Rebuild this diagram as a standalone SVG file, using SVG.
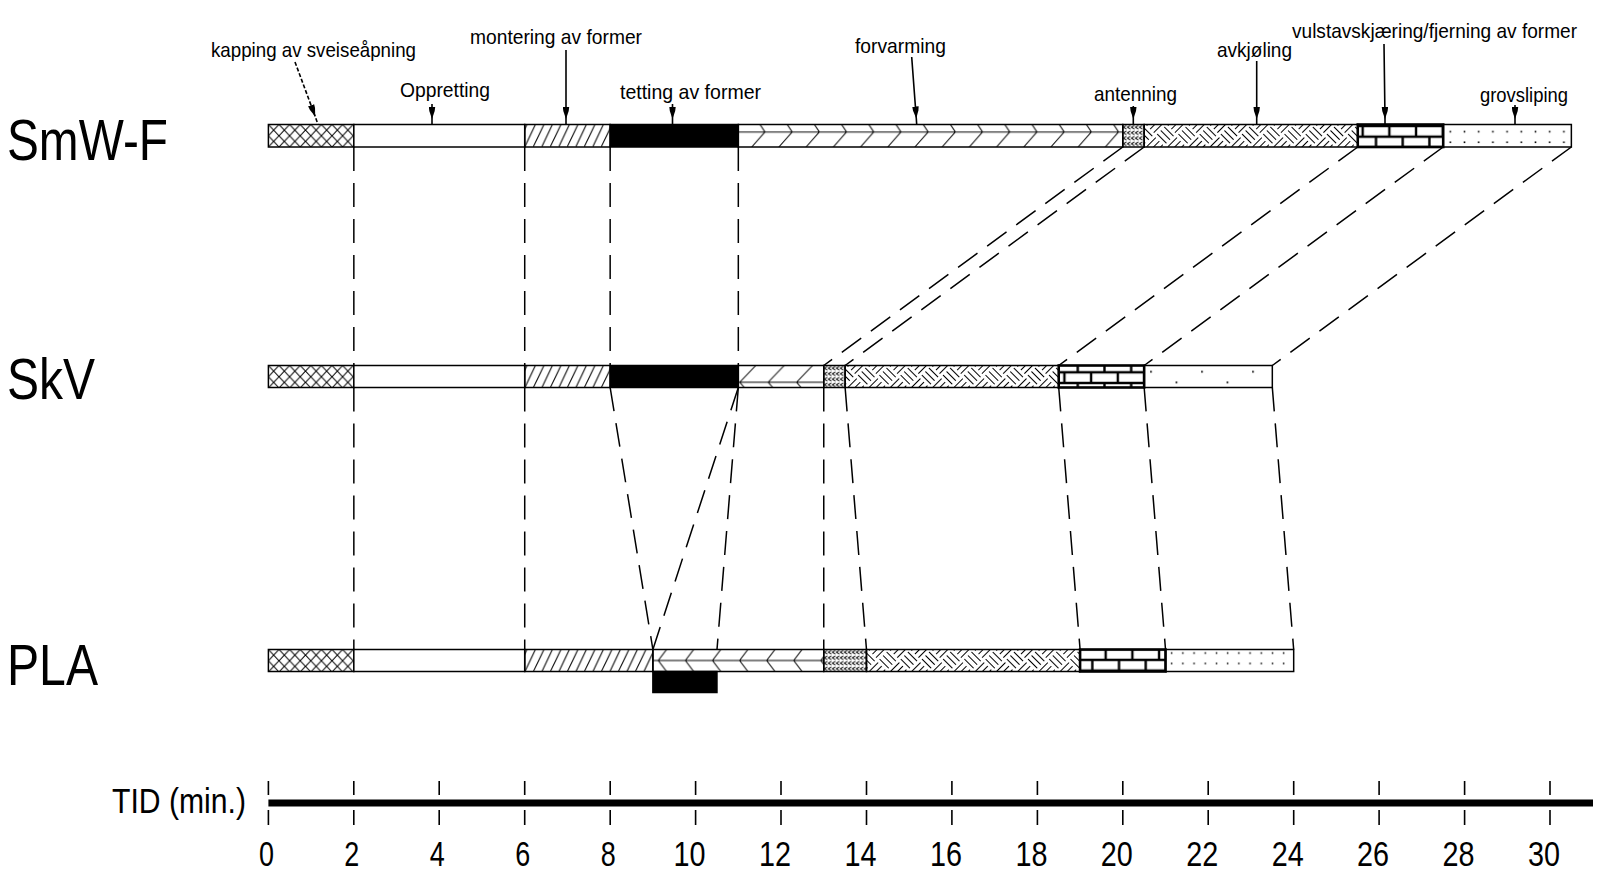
<svg xmlns="http://www.w3.org/2000/svg" width="1600" height="895" viewBox="0 0 1600 895">
<style>
.seg{stroke:#000;stroke-width:1.5}
.brk{stroke:#000;stroke-width:2.6}
.conn{fill:none;stroke:#000;stroke-width:1.5;stroke-dasharray:24 12}
.ptr{fill:none;stroke:#000;stroke-width:1.6;marker-mid:url(#ah)}
.pl{fill:none;stroke:#000;stroke-width:1}
.t{font-family:'Liberation Sans Narrow','Liberation Sans',Arial,sans-serif;fill:#000}
.lbl{font-size:21px}
.row{font-size:57px}
.num{font-size:35px;text-anchor:middle}
.tick{stroke:#000;stroke-width:1.6}
</style>
<defs>
<marker id="ah" markerUnits="userSpaceOnUse" markerWidth="13" markerHeight="7" refX="12" refY="3.5" orient="auto"><path d="M0,0.3 L4,0.8 L12,3.5 L4,6.2 L0,6.7 Z" fill="#000"/></marker>
<pattern id="pCross" patternUnits="userSpaceOnUse" width="10.6" height="11.25"><path class="pl" d="M0,0 L10.6,11.25 M10.6,0 L0,11.25"/></pattern>
<pattern id="pHatch" patternUnits="userSpaceOnUse" width="8.5" height="22.5"><path class="pl" stroke-width="1.2" d="M0,22.5 L10.7,0 M-8.5,22.5 L2.2,0"/></pattern>
<pattern id="pChevR" patternUnits="userSpaceOnUse" width="27.2" height="22.5"><path class="pl" stroke-width="1.3" d="M0,7.5 H27.2 M21.7,0 L26.7,7.5 L13.4,22.5"/></pattern>
<pattern id="pChevL1" patternUnits="userSpaceOnUse" width="28.4" height="22"><path class="pl" stroke-width="1.3" d="M0,16.7 H28.4 M17.5,0 L1.5,16.7 L6,22"/></pattern>
<pattern id="pChevL2" patternUnits="userSpaceOnUse" width="27.1" height="22"><path class="pl" stroke-width="1.3" d="M0,11 H27.1 M13.7,0 L5.4,11 L13.7,22"/></pattern>
<pattern id="pAnt" patternUnits="userSpaceOnUse" width="4" height="5.5"><path class="pl" stroke-width="0.9" d="M3.6,0.8 L0.6,2.75 L3.6,4.7"/></pattern>
<pattern id="pHerr" patternUnits="userSpaceOnUse" width="30" height="30" patternTransform="rotate(45)"><path class="pl" stroke-width="1.1" d="M1,2.5H14 M1,7.5H14 M1,12.5H14 M16,17.5H29 M16,22.5H29 M16,27.5H29 M17.5,1V14 M22.5,1V14 M27.5,1V14 M2.5,16V29 M7.5,16V29 M12.5,16V29"/></pattern>
<pattern id="pBrick" patternUnits="userSpaceOnUse" width="26.7" height="21.4"><path fill="none" stroke="#000" stroke-width="2.4" d="M0,0 H26.7 M0,10.7 H26.7 M0,21.4 H26.7 M0,0 V10.7 M26.7,0 V10.7 M13.35,10.7 V21.4"/></pattern>
<pattern id="pDot1" patternUnits="userSpaceOnUse" width="14.2" height="22.5"><rect x="6.3" y="6.4" width="1.6" height="1.6"/><rect x="6.3" y="17" width="1.6" height="1.6"/></pattern>
<pattern id="pDot2" patternUnits="userSpaceOnUse" width="51" height="22"><rect x="6" y="5.4" width="1.7" height="1.7"/><rect x="31.5" y="16" width="1.7" height="1.7"/></pattern>
<pattern id="pDot3" patternUnits="userSpaceOnUse" width="11.2" height="22"><rect x="5.4" y="2.8" width="1.5" height="1.5"/><rect x="5.4" y="13.2" width="1.5" height="1.5"/></pattern>
</defs>
<rect width="1600" height="895" fill="#fff"/>

<g id="row-labels">
<text class="t row" x="7" y="160" textLength="161" lengthAdjust="spacingAndGlyphs">SmW-F</text>
<text class="t row" x="7" y="399" textLength="88" lengthAdjust="spacingAndGlyphs">SkV</text>
<text class="t row" x="7" y="685" textLength="91" lengthAdjust="spacingAndGlyphs">PLA</text>
</g>

<g id="bar-smwf">
<g id="smwf-kapping" transform="translate(268.4,124.5)"><rect class="seg" width="85.44" height="22.5" fill="url(#pCross)"/></g>
<g id="smwf-oppretting" transform="translate(353.84,124.5)"><rect class="seg" width="170.88" height="22.5" fill="#fff"/></g>
<g id="smwf-montering" transform="translate(524.72,124.5)"><rect class="seg" width="85.44" height="22.5" fill="url(#pHatch)"/></g>
<g id="smwf-tetting" transform="translate(610.16,124.5)"><rect class="seg" width="128.16" height="22.5" fill="#000"/></g>
<g id="smwf-forvarming" transform="translate(738.32,124.5)"><rect class="seg" width="384.48" height="22.5" fill="url(#pChevR)"/></g>
<g id="smwf-antenning" transform="translate(1122.8,124.5)"><rect class="seg" width="21.36" height="22.5" fill="url(#pAnt)"/></g>
<g id="smwf-avkjoling" transform="translate(1144.16,124.5)"><rect class="seg" width="213.6" height="22.5" fill="url(#pHerr)"/></g>
<g id="smwf-vulstav" transform="translate(1357.76,124.5)"><rect class="brk" x="-4.9" y="-1.5" transform="translate(4.9,1.5)" width="85.44" height="22.5" fill="url(#pBrick)"/></g>
<g id="smwf-grovsliping" transform="translate(1443.2,124.5)"><rect class="seg" width="128.16" height="22.5" fill="url(#pDot1)"/></g>
</g>

<g id="bar-skv">
<g id="skv-kapping" transform="translate(268.4,365.5)"><rect class="seg" width="85.44" height="22" fill="url(#pCross)"/></g>
<g id="skv-oppretting" transform="translate(353.84,365.5)"><rect class="seg" width="170.88" height="22" fill="#fff"/></g>
<g id="skv-montering" transform="translate(524.72,365.5)"><rect class="seg" width="85.44" height="22" fill="url(#pHatch)"/></g>
<g id="skv-tetting" transform="translate(610.16,365.5)"><rect class="seg" width="128.16" height="22" fill="#000"/></g>
<g id="skv-forvarming" transform="translate(738.32,365.5)"><rect class="seg" width="85.44" height="22" fill="url(#pChevL1)"/></g>
<g id="skv-antenning" transform="translate(823.76,365.5)"><rect class="seg" width="21.36" height="22" fill="url(#pAnt)"/></g>
<g id="skv-avkjoling" transform="translate(845.12,365.5)"><rect class="seg" width="213.6" height="22" fill="url(#pHerr)"/></g>
<g id="skv-vulstav" transform="translate(1058.72,365.5)"><rect class="brk" x="-5.7" y="-6.8" transform="translate(5.7,6.8)" width="85.44" height="22" fill="url(#pBrick)"/></g>
<g id="skv-grovsliping" transform="translate(1144.16,365.5)"><rect class="seg" width="128.16" height="22" fill="url(#pDot2)"/></g>
</g>

<g id="bar-pla">
<g id="pla-kapping" transform="translate(268.4,649.5)"><rect class="seg" width="85.44" height="22" fill="url(#pCross)"/></g>
<g id="pla-oppretting" transform="translate(353.84,649.5)"><rect class="seg" width="170.88" height="22" fill="#fff"/></g>
<g id="pla-montering" transform="translate(524.72,649.5)"><rect class="seg" width="128.16" height="22" fill="url(#pHatch)"/></g>
<g id="pla-forvarming" transform="translate(652.88,649.5)"><rect class="seg" width="170.88" height="22" fill="url(#pChevL2)"/></g>
<g id="pla-tetting" transform="translate(652.88,671.5)"><rect class="seg" width="64.08" height="21" fill="#000"/></g>
<g id="pla-antenning" transform="translate(823.76,649.5)"><rect class="seg" width="42.72" height="22" fill="url(#pAnt)"/></g>
<g id="pla-avkjoling" transform="translate(866.48,649.5)"><rect class="seg" width="213.6" height="22" fill="url(#pHerr)"/></g>
<g id="pla-vulstav" transform="translate(1080.08,649.5)"><rect class="brk" x="-25.6" y="0.3" transform="translate(25.6,-0.3)" width="85.44" height="22" fill="url(#pBrick)"/></g>
<g id="pla-grovsliping" transform="translate(1165.52,649.5)"><rect class="seg" width="128.16" height="22" fill="url(#pDot3)"/></g>
</g>

<g id="connectors">
<path class="conn" d="M353.84,147 V365.5 M353.84,387.5 V649.5"/>
<path class="conn" d="M524.72,147 V365.5 M524.72,387.5 V649.5"/>
<path class="conn" d="M610.16,147 V365.5"/>
<path class="conn" d="M738.32,147 V365.5"/>
<path class="conn" d="M610.16,387.5 L652.88,649.5"/>
<path class="conn" d="M738.32,387.5 L652.88,649.5"/>
<path class="conn" d="M738.32,387.5 L717,649.5"/>
<path class="conn" d="M823.76,387.5 V649.5"/>
<path class="conn" d="M845.12,387.5 L866.48,649.5"/>
<path class="conn" d="M1058.72,387.5 L1080.08,649.5"/>
<path class="conn" d="M1144.16,387.5 L1165.52,649.5"/>
<path class="conn" d="M1272.32,387.5 L1293.68,649.5"/>
<path class="conn" d="M1122.8,147 L823.76,365.5"/>
<path class="conn" d="M1144.16,147 L845.12,365.5"/>
<path class="conn" d="M1357.76,147 L1058.72,365.5"/>
<path class="conn" d="M1443.2,147 L1144.16,365.5"/>
<path class="conn" d="M1571.36,147 L1272.32,365.5"/>
</g>

<g id="step-labels">
<text class="t lbl" x="211" y="57" textLength="205" lengthAdjust="spacingAndGlyphs">kapping av sveiseåpning</text>
<text class="t lbl" x="400" y="97.3" textLength="90" lengthAdjust="spacingAndGlyphs">Oppretting</text>
<text class="t lbl" x="470" y="44" textLength="172" lengthAdjust="spacingAndGlyphs">montering av former</text>
<text class="t lbl" x="620" y="99.3" textLength="141" lengthAdjust="spacingAndGlyphs">tetting av former</text>
<text class="t lbl" x="855" y="53.3" textLength="91" lengthAdjust="spacingAndGlyphs">forvarming</text>
<text class="t lbl" x="1094" y="100.7" textLength="83" lengthAdjust="spacingAndGlyphs">antenning</text>
<text class="t lbl" x="1217" y="56.7" textLength="75" lengthAdjust="spacingAndGlyphs">avkjøling</text>
<text class="t lbl" x="1292" y="38.3" textLength="285" lengthAdjust="spacingAndGlyphs">vulstavskjæring/fjerning av former</text>
<text class="t lbl" x="1480" y="101.7" textLength="88" lengthAdjust="spacingAndGlyphs">grovsliping</text>
</g>

<g id="pointers">
<path class="ptr" stroke-dasharray="4 2" d="M295,62 L315.2,116.5 L318,124.5"/>
<path class="ptr" d="M432,104 L432,119 L432,124.5"/>
<path class="ptr" d="M566,50 L566,119 L566,124.5"/>
<path class="ptr" d="M672.5,104 L672.5,119 L672.5,124.5"/>
<path class="ptr" d="M911.7,57 L916.3,118.5 L916.7,124.5"/>
<path class="ptr" d="M1133.3,106 L1133.3,119 L1133.3,124.5"/>
<path class="ptr" d="M1256.7,61 L1256.7,119 L1256.7,124.5"/>
<path class="ptr" d="M1384,44 L1385,119 L1385,124.5"/>
<path class="ptr" d="M1515,105 L1515,119 L1515,124.5"/>
</g>

<g id="time-axis">
<text class="t" x="112" y="813" font-size="35" textLength="134" lengthAdjust="spacingAndGlyphs">TID (min.)</text>
<line x1="268.4" y1="803" x2="1593" y2="803" stroke="#000" stroke-width="7"/>
<path class="tick" d="M268.4,781V795M268.4,810V825 M353.8,781V795M353.8,810V825 M439.2,781V795M439.2,810V825 M524.7,781V795M524.7,810V825 M610.2,781V795M610.2,810V825 M695.6,781V795M695.6,810V825 M781,781V795M781,810V825 M866.5,781V795M866.5,810V825 M951.9,781V795M951.9,810V825 M1037.4,781V795M1037.4,810V825 M1122.8,781V795M1122.8,810V825 M1208.2,781V795M1208.2,810V825 M1293.7,781V795M1293.7,810V825 M1379.1,781V795M1379.1,810V825 M1464.6,781V795M1464.6,810V825 M1550,781V795M1550,810V825"/>
<text class="t num" x="266.4" y="866" textLength="15" lengthAdjust="spacingAndGlyphs">0</text>
<text class="t num" x="351.8" y="866" textLength="15" lengthAdjust="spacingAndGlyphs">2</text>
<text class="t num" x="437.2" y="866" textLength="15" lengthAdjust="spacingAndGlyphs">4</text>
<text class="t num" x="522.7" y="866" textLength="15" lengthAdjust="spacingAndGlyphs">6</text>
<text class="t num" x="608.2" y="866" textLength="15" lengthAdjust="spacingAndGlyphs">8</text>
<text class="t num" x="689.6" y="866" textLength="32" lengthAdjust="spacingAndGlyphs">10</text>
<text class="t num" x="775" y="866" textLength="32" lengthAdjust="spacingAndGlyphs">12</text>
<text class="t num" x="860.5" y="866" textLength="32" lengthAdjust="spacingAndGlyphs">14</text>
<text class="t num" x="945.9" y="866" textLength="32" lengthAdjust="spacingAndGlyphs">16</text>
<text class="t num" x="1031.4" y="866" textLength="32" lengthAdjust="spacingAndGlyphs">18</text>
<text class="t num" x="1116.8" y="866" textLength="32" lengthAdjust="spacingAndGlyphs">20</text>
<text class="t num" x="1202.2" y="866" textLength="32" lengthAdjust="spacingAndGlyphs">22</text>
<text class="t num" x="1287.7" y="866" textLength="32" lengthAdjust="spacingAndGlyphs">24</text>
<text class="t num" x="1373.1" y="866" textLength="32" lengthAdjust="spacingAndGlyphs">26</text>
<text class="t num" x="1458.6" y="866" textLength="32" lengthAdjust="spacingAndGlyphs">28</text>
<text class="t num" x="1544" y="866" textLength="32" lengthAdjust="spacingAndGlyphs">30</text>
</g>
</svg>
